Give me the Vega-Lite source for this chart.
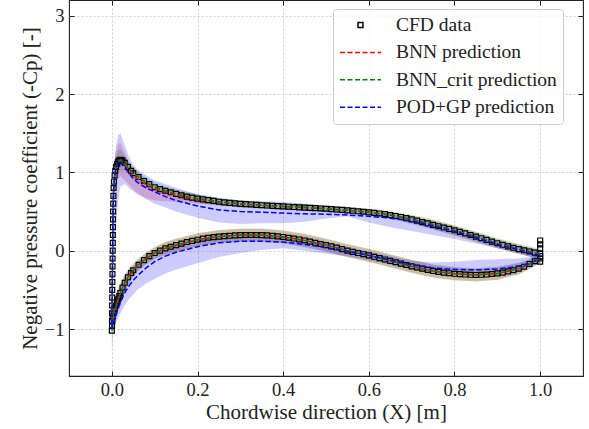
{
  "$schema": "https://vega.github.io/schema/vega-lite/v6.json",
  "width": 514,
  "height": 376,
  "autosize": {"type": "none"},
  "padding": {"left": 69, "top": 0, "right": 6, "bottom": 53},
  "background": "white",
  "config": {
    "view": {"stroke": "#222", "strokeWidth": 1.1},
    "font": "Liberation Serif, Times New Roman, DejaVu Serif, serif",
    "axis": {
      "labelFont": "Liberation Serif, Times New Roman, DejaVu Serif, serif", "titleFont": "Liberation Serif, Times New Roman, DejaVu Serif, serif",
      "labelFontSize": 18.5, "titleFontSize": 21, "titleFontWeight": "normal",
      "labelColor": "#222", "titleColor": "#222", "tickColor": "#222",
      "tickSize": -5, "tickWidth": 1, "domain": false,
      "gridColor": "#c4c4c4", "gridDash": [2, 2], "gridWidth": 0.8
    },
    "legend": {
      "orient": "none", "legendX": 264, "legendY": 9,
      "labelFont": "Liberation Serif, Times New Roman, DejaVu Serif, serif", "labelFontSize": 19.5, "labelColor": "#222",
      "padding": 6, "strokeColor": "#cccccc", "fillColor": "rgba(255,255,255,0.8)",
      "cornerRadius": 3, "symbolSize": 1681, "clipHeight": 20, "rowPadding": 7.4,
      "labelOffset": 14, "symbolStrokeWidth": 1.5, "labelLimit": 300, "symbolFillColor": "transparent", "symbolOpacity": 1
    }
  },
  "datasets": {
    "cfd": [
      {"x":0,"y":-1.02},{"x":0.0003,"y":-0.9},{"x":0.0005,"y":-0.8},{"x":0.0007,"y":-0.7},{"x":0.0009,"y":-0.6},{"x":0.001,"y":-0.5},{"x":0.0012,"y":-0.4},{"x":0.0014,"y":-0.3},{"x":0.0016,"y":-0.2},{"x":0.0018,"y":-0.1},{"x":0.002,"y":0.0},{"x":0.0022,"y":0.1},{"x":0.0024,"y":0.2},{"x":0.0026,"y":0.3},{"x":0.0028,"y":0.4},{"x":0.003,"y":0.5},{"x":0.0033,"y":0.6},{"x":0.0037,"y":0.7},{"x":0.0042,"y":0.8},{"x":0.005,"y":0.88},{"x":0.0065,"y":0.96},{"x":0.008,"y":1.02},{"x":0.01,"y":1.07},{"x":0.0125,"y":1.11},{"x":0.015,"y":1.14},{"x":0.0175,"y":1.155},{"x":0.02,"y":1.16},{"x":0.0225,"y":1.158},{"x":0.025,"y":1.15},{"x":0.03,"y":1.12},{"x":0.0375,"y":1.07},{"x":0.045,"y":1.02},{"x":0.05,"y":0.99},{"x":0.0625,"y":0.94},{"x":0.075,"y":0.89},{"x":0.0875,"y":0.85},{"x":0.1,"y":0.81},{"x":0.1125,"y":0.785},{"x":0.125,"y":0.765},{"x":0.1375,"y":0.745},{"x":0.15,"y":0.725},{"x":0.1625,"y":0.707},{"x":0.175,"y":0.69},{"x":0.1875,"y":0.677},{"x":0.2,"y":0.665},{"x":0.2125,"y":0.655},{"x":0.225,"y":0.645},{"x":0.2375,"y":0.635},{"x":0.25,"y":0.625},{"x":0.2625,"y":0.617},{"x":0.275,"y":0.61},{"x":0.2875,"y":0.604},{"x":0.3,"y":0.598},{"x":0.3125,"y":0.594},{"x":0.325,"y":0.59},{"x":0.3375,"y":0.585},{"x":0.35,"y":0.58},{"x":0.3625,"y":0.576},{"x":0.375,"y":0.572},{"x":0.3875,"y":0.568},{"x":0.4,"y":0.565},{"x":0.4125,"y":0.561},{"x":0.425,"y":0.557},{"x":0.4375,"y":0.553},{"x":0.45,"y":0.55},{"x":0.4625,"y":0.546},{"x":0.475,"y":0.543},{"x":0.4875,"y":0.539},{"x":0.5,"y":0.535},{"x":0.5125,"y":0.53},{"x":0.525,"y":0.525},{"x":0.5375,"y":0.52},{"x":0.55,"y":0.515},{"x":0.5625,"y":0.509},{"x":0.575,"y":0.503},{"x":0.5875,"y":0.497},{"x":0.6,"y":0.49},{"x":0.6125,"y":0.483},{"x":0.625,"y":0.475},{"x":0.6375,"y":0.466},{"x":0.65,"y":0.455},{"x":0.6625,"y":0.443},{"x":0.675,"y":0.43},{"x":0.6875,"y":0.415},{"x":0.7,"y":0.4},{"x":0.7125,"y":0.383},{"x":0.725,"y":0.365},{"x":0.7375,"y":0.348},{"x":0.75,"y":0.33},{"x":0.7625,"y":0.312},{"x":0.775,"y":0.295},{"x":0.7875,"y":0.278},{"x":0.8,"y":0.26},{"x":0.8125,"y":0.24},{"x":0.825,"y":0.22},{"x":0.8375,"y":0.2},{"x":0.85,"y":0.18},{"x":0.8625,"y":0.159},{"x":0.875,"y":0.138},{"x":0.8875,"y":0.116},{"x":0.9,"y":0.095},{"x":0.9125,"y":0.075},{"x":0.925,"y":0.055},{"x":0.9375,"y":0.037},{"x":0.95,"y":0.02},{"x":0.9625,"y":0.005},{"x":0.975,"y":-0.01},{"x":0.9875,"y":-0.025},{"x":1.0,"y":-0.04},
      {"x":1.0,"y":0.13},{"x":1.0,"y":0.08},{"x":1.0,"y":0.03},{"x":1.0,"y":-0.07},{"x":1.0,"y":-0.14},
      {"x":0.0005,"y":-0.96},{"x":0.001,"y":-0.9},{"x":0.002,"y":-0.84},{"x":0.004,"y":-0.79},{"x":0.007,"y":-0.74},{"x":0.01,"y":-0.7},{"x":0.0125,"y":-0.66},{"x":0.015,"y":-0.62},{"x":0.0175,"y":-0.58},{"x":0.02,"y":-0.54},{"x":0.025,"y":-0.47},{"x":0.03,"y":-0.41},{"x":0.0375,"y":-0.34},{"x":0.045,"y":-0.285},{"x":0.05,"y":-0.25},{"x":0.0625,"y":-0.18},{"x":0.075,"y":-0.12},{"x":0.0875,"y":-0.07},{"x":0.1,"y":-0.03},{"x":0.1125,"y":0.0},{"x":0.125,"y":0.03},{"x":0.1375,"y":0.05},{"x":0.15,"y":0.07},{"x":0.1625,"y":0.09},{"x":0.175,"y":0.11},{"x":0.1875,"y":0.125},{"x":0.2,"y":0.14},{"x":0.2125,"y":0.153},{"x":0.225,"y":0.165},{"x":0.2375,"y":0.173},{"x":0.25,"y":0.18},{"x":0.2625,"y":0.186},{"x":0.275,"y":0.19},{"x":0.2875,"y":0.195},{"x":0.3,"y":0.198},{"x":0.3125,"y":0.2},{"x":0.325,"y":0.2},{"x":0.3375,"y":0.2},{"x":0.35,"y":0.198},{"x":0.3625,"y":0.195},{"x":0.375,"y":0.19},{"x":0.3875,"y":0.183},{"x":0.4,"y":0.175},{"x":0.4125,"y":0.165},{"x":0.425,"y":0.155},{"x":0.4375,"y":0.143},{"x":0.45,"y":0.13},{"x":0.4625,"y":0.115},{"x":0.475,"y":0.1},{"x":0.4875,"y":0.085},{"x":0.5,"y":0.07},{"x":0.5125,"y":0.055},{"x":0.525,"y":0.04},{"x":0.5375,"y":0.02},{"x":0.55,"y":0.0},{"x":0.5625,"y":-0.015},{"x":0.575,"y":-0.03},{"x":0.5875,"y":-0.045},{"x":0.6,"y":-0.06},{"x":0.6125,"y":-0.078},{"x":0.625,"y":-0.095},{"x":0.6375,"y":-0.112},{"x":0.65,"y":-0.13},{"x":0.6625,"y":-0.148},{"x":0.675,"y":-0.165},{"x":0.6875,"y":-0.183},{"x":0.7,"y":-0.2},{"x":0.7125,"y":-0.215},{"x":0.725,"y":-0.23},{"x":0.7375,"y":-0.245},{"x":0.75,"y":-0.26},{"x":0.7625,"y":-0.27},{"x":0.775,"y":-0.28},{"x":0.7875,"y":-0.288},{"x":0.8,"y":-0.295},{"x":0.8125,"y":-0.3},{"x":0.825,"y":-0.305},{"x":0.8375,"y":-0.308},{"x":0.85,"y":-0.31},{"x":0.8625,"y":-0.308},{"x":0.875,"y":-0.305},{"x":0.8875,"y":-0.298},{"x":0.9,"y":-0.29},{"x":0.9125,"y":-0.28},{"x":0.925,"y":-0.265},{"x":0.9375,"y":-0.25},{"x":0.95,"y":-0.23},{"x":0.9625,"y":-0.205},{"x":0.975,"y":-0.17},{"x":0.9875,"y":-0.135},{"x":1.0,"y":-0.1}
    ],
    "pred": [
      {"s":"upper","i":0,"x":1.0,"bnn":-0.05,"bnn_lo":-0.1,"bnn_hi":0.0,"crit":-0.04,"crit_lo":-0.1,"crit_hi":0.02,"pod":-0.06,"pod_lo":-0.13,"pod_hi":0.01},
      {"s":"upper","i":1,"x":0.975,"bnn":-0.015,"bnn_lo":-0.07,"bnn_hi":0.04,"crit":-0.01,"crit_lo":-0.075,"crit_hi":0.055,"pod":-0.03,"pod_lo":-0.08,"pod_hi":0.03},
      {"s":"upper","i":2,"x":0.95,"bnn":0.02,"bnn_lo":-0.04,"bnn_hi":0.08,"crit":0.02,"crit_lo":-0.045,"crit_hi":0.085,"pod":0.01,"pod_lo":-0.03,"pod_hi":0.05},
      {"s":"upper","i":3,"x":0.9,"bnn":0.09,"bnn_lo":0.03,"bnn_hi":0.15,"crit":0.095,"crit_lo":0.03,"crit_hi":0.16,"pod":0.08,"pod_lo":0.03,"pod_hi":0.12},
      {"s":"upper","i":4,"x":0.85,"bnn":0.175,"bnn_lo":0.115,"bnn_hi":0.235,"crit":0.18,"crit_lo":0.115,"crit_hi":0.245,"pod":0.165,"pod_lo":0.09,"pod_hi":0.21},
      {"s":"upper","i":5,"x":0.8,"bnn":0.255,"bnn_lo":0.195,"bnn_hi":0.315,"crit":0.26,"crit_lo":0.195,"crit_hi":0.325,"pod":0.245,"pod_lo":0.15,"pod_hi":0.29},
      {"s":"upper","i":6,"x":0.75,"bnn":0.33,"bnn_lo":0.275,"bnn_hi":0.385,"crit":0.335,"crit_lo":0.27,"crit_hi":0.4,"pod":0.315,"pod_lo":0.2,"pod_hi":0.37},
      {"s":"upper","i":7,"x":0.7,"bnn":0.4,"bnn_lo":0.35,"bnn_hi":0.45,"crit":0.4,"crit_lo":0.34,"crit_hi":0.46,"pod":0.38,"pod_lo":0.25,"pod_hi":0.43},
      {"s":"upper","i":8,"x":0.65,"bnn":0.455,"bnn_lo":0.415,"bnn_hi":0.495,"crit":0.455,"crit_lo":0.405,"crit_hi":0.505,"pod":0.415,"pod_lo":0.3,"pod_hi":0.48},
      {"s":"upper","i":9,"x":0.6,"bnn":0.49,"bnn_lo":0.455,"bnn_hi":0.525,"crit":0.49,"crit_lo":0.445,"crit_hi":0.535,"pod":0.44,"pod_lo":0.36,"pod_hi":0.52},
      {"s":"upper","i":10,"x":0.55,"bnn":0.515,"bnn_lo":0.48,"bnn_hi":0.55,"crit":0.515,"crit_lo":0.47,"crit_hi":0.56,"pod":0.455,"pod_lo":0.44,"pod_hi":0.54},
      {"s":"upper","i":11,"x":0.5,"bnn":0.535,"bnn_lo":0.5,"bnn_hi":0.57,"crit":0.535,"crit_lo":0.49,"crit_hi":0.58,"pod":0.465,"pod_lo":0.41,"pod_hi":0.57},
      {"s":"upper","i":12,"x":0.45,"bnn":0.55,"bnn_lo":0.515,"bnn_hi":0.585,"crit":0.55,"crit_lo":0.505,"crit_hi":0.595,"pod":0.47,"pod_lo":0.37,"pod_hi":0.6},
      {"s":"upper","i":13,"x":0.4,"bnn":0.565,"bnn_lo":0.53,"bnn_hi":0.6,"crit":0.565,"crit_lo":0.52,"crit_hi":0.61,"pod":0.48,"pod_lo":0.35,"pod_hi":0.62},
      {"s":"upper","i":14,"x":0.35,"bnn":0.58,"bnn_lo":0.545,"bnn_hi":0.615,"crit":0.58,"crit_lo":0.535,"crit_hi":0.625,"pod":0.49,"pod_lo":0.35,"pod_hi":0.63},
      {"s":"upper","i":15,"x":0.3,"bnn":0.597,"bnn_lo":0.56,"bnn_hi":0.635,"crit":0.598,"crit_lo":0.55,"crit_hi":0.645,"pod":0.5,"pod_lo":0.34,"pod_hi":0.64},
      {"s":"upper","i":16,"x":0.25,"bnn":0.62,"bnn_lo":0.58,"bnn_hi":0.66,"crit":0.625,"crit_lo":0.575,"crit_hi":0.675,"pod":0.52,"pod_lo":0.36,"pod_hi":0.67},
      {"s":"upper","i":17,"x":0.2,"bnn":0.655,"bnn_lo":0.6,"bnn_hi":0.7,"crit":0.665,"crit_lo":0.61,"crit_hi":0.72,"pod":0.57,"pod_lo":0.42,"pod_hi":0.72},
      {"s":"upper","i":18,"x":0.15,"bnn":0.71,"bnn_lo":0.62,"bnn_hi":0.76,"crit":0.725,"crit_lo":0.67,"crit_hi":0.78,"pod":0.64,"pod_lo":0.5,"pod_hi":0.8},
      {"s":"upper","i":19,"x":0.125,"bnn":0.75,"bnn_lo":0.63,"bnn_hi":0.8,"crit":0.765,"crit_lo":0.71,"crit_hi":0.82,"pod":0.69,"pod_lo":0.55,"pod_hi":0.85},
      {"s":"upper","i":20,"x":0.1,"bnn":0.79,"bnn_lo":0.64,"bnn_hi":0.84,"crit":0.81,"crit_lo":0.75,"crit_hi":0.87,"pod":0.75,"pod_lo":0.6,"pod_hi":0.9},
      {"s":"upper","i":21,"x":0.08,"bnn":0.84,"bnn_lo":0.67,"bnn_hi":0.9,"crit":0.87,"crit_lo":0.8,"crit_hi":0.93,"pod":0.8,"pod_lo":0.66,"pod_hi":0.96},
      {"s":"upper","i":22,"x":0.06,"bnn":0.92,"bnn_lo":0.73,"bnn_hi":0.99,"crit":0.95,"crit_lo":0.88,"crit_hi":1.01,"pod":0.87,"pod_lo":0.72,"pod_hi":1.04},
      {"s":"upper","i":23,"x":0.05,"bnn":0.97,"bnn_lo":0.78,"bnn_hi":1.05,"crit":0.99,"crit_lo":0.92,"crit_hi":1.06,"pod":0.92,"pod_lo":0.76,"pod_hi":1.1},
      {"s":"upper","i":24,"x":0.04,"bnn":1.03,"bnn_lo":0.84,"bnn_hi":1.13,"crit":1.05,"crit_lo":0.97,"crit_hi":1.13,"pod":0.99,"pod_lo":0.8,"pod_hi":1.2},
      {"s":"upper","i":25,"x":0.03,"bnn":1.1,"bnn_lo":0.9,"bnn_hi":1.26,"crit":1.12,"crit_lo":1.02,"crit_hi":1.21,"pod":1.07,"pod_lo":0.85,"pod_hi":1.35},
      {"s":"upper","i":26,"x":0.02,"bnn":1.15,"bnn_lo":0.95,"bnn_hi":1.38,"crit":1.16,"crit_lo":1.02,"crit_hi":1.3,"pod":1.14,"pod_lo":0.82,"pod_hi":1.5},
      {"s":"upper","i":27,"x":0.015,"bnn":1.13,"bnn_lo":0.92,"bnn_hi":1.36,"crit":1.14,"crit_lo":1.0,"crit_hi":1.28,"pod":1.13,"pod_lo":0.65,"pod_hi":1.48},
      {"s":"upper","i":28,"x":0.01,"bnn":1.06,"bnn_lo":0.85,"bnn_hi":1.28,"crit":1.07,"crit_lo":0.95,"crit_hi":1.2,"pod":1.05,"pod_lo":0.35,"pod_hi":1.35},
      {"s":"upper","i":29,"x":0.007,"bnn":0.98,"bnn_lo":0.75,"bnn_hi":1.18,"crit":0.99,"crit_lo":0.85,"crit_hi":1.12,"pod":0.95,"pod_lo":0.15,"pod_hi":1.2},
      {"s":"upper","i":30,"x":0.004,"bnn":0.78,"bnn_lo":0.55,"bnn_hi":0.98,"crit":0.78,"crit_lo":0.62,"crit_hi":0.93,"pod":0.75,"pod_lo":0.0,"pod_hi":1.0},
      {"s":"upper","i":31,"x":0.003,"bnn":0.55,"bnn_lo":0.3,"bnn_hi":0.78,"crit":0.55,"crit_lo":0.38,"crit_hi":0.72,"pod":0.55,"pod_lo":-0.2,"pod_hi":0.85},
      {"s":"upper","i":32,"x":0.002,"bnn":0.0,"bnn_lo":-0.25,"bnn_hi":0.25,"crit":0.0,"crit_lo":-0.2,"crit_hi":0.2,"pod":0.2,"pod_lo":-0.45,"pod_hi":0.6},
      {"s":"upper","i":33,"x":0.001,"bnn":-0.5,"bnn_lo":-0.7,"bnn_hi":-0.3,"crit":-0.5,"crit_lo":-0.7,"crit_hi":-0.3,"pod":-0.5,"pod_lo":-0.8,"pod_hi":-0.2},
      {"s":"upper","i":34,"x":0,"bnn":-1.0,"bnn_lo":-1.1,"bnn_hi":-0.9,"crit":-1.02,"crit_lo":-1.15,"crit_hi":-0.9,"pod":-1.0,"pod_lo":-1.1,"pod_hi":-0.9},
      {"s":"lower","i":35,"x":0,"bnn":-1.0,"bnn_lo":-1.15,"bnn_hi":-0.9,"crit":-1.02,"crit_lo":-1.35,"crit_hi":-0.9,"pod":-0.98,"pod_lo":-1.05,"pod_hi":-0.92},
      {"s":"lower","i":36,"x":0.002,"bnn":-0.85,"bnn_lo":-1.02,"bnn_hi":-0.7,"crit":-0.86,"crit_lo":-1.12,"crit_hi":-0.68,"pod":-0.95,"pod_lo":-1.02,"pod_hi":-0.85},
      {"s":"lower","i":37,"x":0.005,"bnn":-0.78,"bnn_lo":-0.94,"bnn_hi":-0.64,"crit":-0.79,"crit_lo":-1.0,"crit_hi":-0.62,"pod":-0.9,"pod_lo":-0.98,"pod_hi":-0.76},
      {"s":"lower","i":38,"x":0.01,"bnn":-0.7,"bnn_lo":-0.84,"bnn_hi":-0.58,"crit":-0.7,"crit_lo":-0.88,"crit_hi":-0.54,"pod":-0.82,"pod_lo":-0.92,"pod_hi":-0.62},
      {"s":"lower","i":39,"x":0.015,"bnn":-0.62,"bnn_lo":-0.74,"bnn_hi":-0.51,"crit":-0.62,"crit_lo":-0.78,"crit_hi":-0.47,"pod":-0.73,"pod_lo":-0.86,"pod_hi":-0.52},
      {"s":"lower","i":40,"x":0.02,"bnn":-0.54,"bnn_lo":-0.65,"bnn_hi":-0.44,"crit":-0.54,"crit_lo":-0.68,"crit_hi":-0.41,"pod":-0.66,"pod_lo":-0.8,"pod_hi":-0.45},
      {"s":"lower","i":41,"x":0.03,"bnn":-0.41,"bnn_lo":-0.51,"bnn_hi":-0.32,"crit":-0.41,"crit_lo":-0.53,"crit_hi":-0.3,"pod":-0.54,"pod_lo":-0.7,"pod_hi":-0.34},
      {"s":"lower","i":42,"x":0.04,"bnn":-0.32,"bnn_lo":-0.41,"bnn_hi":-0.24,"crit":-0.32,"crit_lo":-0.43,"crit_hi":-0.22,"pod":-0.45,"pod_lo":-0.62,"pod_hi":-0.26},
      {"s":"lower","i":43,"x":0.05,"bnn":-0.25,"bnn_lo":-0.33,"bnn_hi":-0.18,"crit":-0.25,"crit_lo":-0.34,"crit_hi":-0.16,"pod":-0.38,"pod_lo":-0.56,"pod_hi":-0.2},
      {"s":"lower","i":44,"x":0.06,"bnn":-0.19,"bnn_lo":-0.26,"bnn_hi":-0.12,"crit":-0.19,"crit_lo":-0.27,"crit_hi":-0.11,"pod":-0.32,"pod_lo":-0.5,"pod_hi":-0.15},
      {"s":"lower","i":45,"x":0.08,"bnn":-0.1,"bnn_lo":-0.17,"bnn_hi":-0.03,"crit":-0.1,"crit_lo":-0.18,"crit_hi":-0.02,"pod":-0.22,"pod_lo":-0.42,"pod_hi":-0.06},
      {"s":"lower","i":46,"x":0.1,"bnn":-0.03,"bnn_lo":-0.1,"bnn_hi":0.04,"crit":-0.03,"crit_lo":-0.11,"crit_hi":0.05,"pod":-0.14,"pod_lo":-0.36,"pod_hi":0.01},
      {"s":"lower","i":47,"x":0.125,"bnn":0.03,"bnn_lo":-0.05,"bnn_hi":0.11,"crit":0.03,"crit_lo":-0.055,"crit_hi":0.115,"pod":-0.07,"pod_lo":-0.29,"pod_hi":0.06},
      {"s":"lower","i":48,"x":0.15,"bnn":0.07,"bnn_lo":-0.01,"bnn_hi":0.15,"crit":0.07,"crit_lo":-0.015,"crit_hi":0.155,"pod":-0.02,"pod_lo":-0.24,"pod_hi":0.1},
      {"s":"lower","i":49,"x":0.2,"bnn":0.14,"bnn_lo":0.06,"bnn_hi":0.22,"crit":0.14,"crit_lo":0.055,"crit_hi":0.225,"pod":0.05,"pod_lo":-0.16,"pod_hi":0.17},
      {"s":"lower","i":50,"x":0.25,"bnn":0.18,"bnn_lo":0.1,"bnn_hi":0.26,"crit":0.18,"crit_lo":0.095,"crit_hi":0.265,"pod":0.1,"pod_lo":-0.08,"pod_hi":0.21},
      {"s":"lower","i":51,"x":0.3,"bnn":0.2,"bnn_lo":0.12,"bnn_hi":0.28,"crit":0.198,"crit_lo":0.113,"crit_hi":0.283,"pod":0.12,"pod_lo":-0.03,"pod_hi":0.23},
      {"s":"lower","i":52,"x":0.35,"bnn":0.2,"bnn_lo":0.12,"bnn_hi":0.28,"crit":0.198,"crit_lo":0.113,"crit_hi":0.283,"pod":0.12,"pod_lo":0.01,"pod_hi":0.23},
      {"s":"lower","i":53,"x":0.4,"bnn":0.175,"bnn_lo":0.095,"bnn_hi":0.255,"crit":0.175,"crit_lo":0.09,"crit_hi":0.26,"pod":0.11,"pod_lo":0.03,"pod_hi":0.21},
      {"s":"lower","i":54,"x":0.45,"bnn":0.13,"bnn_lo":0.05,"bnn_hi":0.21,"crit":0.13,"crit_lo":0.045,"crit_hi":0.215,"pod":0.08,"pod_lo":0.0,"pod_hi":0.17},
      {"s":"lower","i":55,"x":0.5,"bnn":0.07,"bnn_lo":-0.01,"bnn_hi":0.15,"crit":0.07,"crit_lo":-0.015,"crit_hi":0.155,"pod":0.04,"pod_lo":-0.04,"pod_hi":0.11},
      {"s":"lower","i":56,"x":0.55,"bnn":0.0,"bnn_lo":-0.08,"bnn_hi":0.08,"crit":0.0,"crit_lo":-0.085,"crit_hi":0.085,"pod":-0.01,"pod_lo":-0.07,"pod_hi":0.04},
      {"s":"lower","i":57,"x":0.6,"bnn":-0.06,"bnn_lo":-0.14,"bnn_hi":0.02,"crit":-0.06,"crit_lo":-0.145,"crit_hi":0.025,"pod":-0.06,"pod_lo":-0.12,"pod_hi":-0.01},
      {"s":"lower","i":58,"x":0.65,"bnn":-0.13,"bnn_lo":-0.21,"bnn_hi":-0.05,"crit":-0.13,"crit_lo":-0.215,"crit_hi":-0.045,"pod":-0.12,"pod_lo":-0.18,"pod_hi":-0.07},
      {"s":"lower","i":59,"x":0.7,"bnn":-0.2,"bnn_lo":-0.28,"bnn_hi":-0.12,"crit":-0.2,"crit_lo":-0.285,"crit_hi":-0.115,"pod":-0.18,"pod_lo":-0.24,"pod_hi":-0.13},
      {"s":"lower","i":60,"x":0.75,"bnn":-0.26,"bnn_lo":-0.34,"bnn_hi":-0.18,"crit":-0.26,"crit_lo":-0.345,"crit_hi":-0.175,"pod":-0.22,"pod_lo":-0.29,"pod_hi":-0.15},
      {"s":"lower","i":61,"x":0.8,"bnn":-0.295,"bnn_lo":-0.375,"bnn_hi":-0.215,"crit":-0.295,"crit_lo":-0.38,"crit_hi":-0.21,"pod":-0.24,"pod_lo":-0.31,"pod_hi":-0.14},
      {"s":"lower","i":62,"x":0.85,"bnn":-0.31,"bnn_lo":-0.39,"bnn_hi":-0.23,"crit":-0.31,"crit_lo":-0.395,"crit_hi":-0.225,"pod":-0.245,"pod_lo":-0.32,"pod_hi":-0.12},
      {"s":"lower","i":63,"x":0.9,"bnn":-0.29,"bnn_lo":-0.37,"bnn_hi":-0.21,"crit":-0.29,"crit_lo":-0.375,"crit_hi":-0.205,"pod":-0.235,"pod_lo":-0.31,"pod_hi":-0.11},
      {"s":"lower","i":64,"x":0.95,"bnn":-0.23,"bnn_lo":-0.3,"bnn_hi":-0.16,"crit":-0.23,"crit_lo":-0.305,"crit_hi":-0.155,"pod":-0.2,"pod_lo":-0.26,"pod_hi":-0.1},
      {"s":"lower","i":65,"x":0.975,"bnn":-0.17,"bnn_lo":-0.23,"bnn_hi":-0.11,"crit":-0.17,"crit_lo":-0.235,"crit_hi":-0.105,"pod":-0.16,"pod_lo":-0.21,"pod_hi":-0.08},
      {"s":"lower","i":66,"x":1.0,"bnn":-0.1,"bnn_lo":-0.15,"bnn_hi":-0.05,"crit":-0.1,"crit_lo":-0.16,"crit_hi":-0.04,"pod":-0.1,"pod_lo":-0.15,"pod_hi":-0.04}
    ]
  },
  "resolve": {"axis": {"x": "independent", "y": "independent"}},
  "layer": [
    {
      "data": {"name": "pred"},
      "mark": {"type": "area", "color": "#ff0000", "opacity": 0.2},
      "encoding": {
        "x": {"field": "x", "type": "quantitative", "scale": {"domain": [-0.1, 1.1], "nice": false, "zero": false},
              "axis": {"orient": "bottom", "title": "Chordwise direction (X) [m]", "values": [0, 0.2, 0.4, 0.6, 0.8, 1.0], "format": ".1f", "grid": true, "labelPadding": 9, "titlePadding": 3}},
        "y": {"field": "bnn_lo", "type": "quantitative", "scale": {"domain": [-1.6, 3.2], "nice": false, "zero": false},
              "axis": {"orient": "left", "title": "Negative pressure coefficient (-Cp) [-]", "values": [-1, 0, 1, 2, 3], "format": "d", "grid": true, "labelPadding": 10, "titlePadding": 4}},
        "y2": {"field": "bnn_hi"},
        "detail": {"field": "s"}
      }
    },
    {
      "data": {"name": "pred"},
      "mark": {"type": "area", "color": "#008000", "opacity": 0.2},
      "encoding": {
        "x": {"field": "x", "type": "quantitative", "axis": null},
        "y": {"field": "crit_lo", "type": "quantitative", "axis": null},
        "y2": {"field": "crit_hi"},
        "detail": {"field": "s"}
      }
    },
    {
      "data": {"name": "pred"},
      "mark": {"type": "area", "color": "#0000ff", "opacity": 0.2},
      "encoding": {
        "x": {"field": "x", "type": "quantitative", "axis": null},
        "y": {"field": "pod_lo", "type": "quantitative", "axis": null},
        "y2": {"field": "pod_hi"},
        "detail": {"field": "s"}
      }
    },
    {
      "data": {"name": "cfd"},
      "mark": {"type": "point", "filled": false, "size": 1681, "strokeWidth": 1.2, "opacity": 1},
      "encoding": {
        "x": {"field": "x", "type": "quantitative", "axis": null},
        "y": {"field": "y", "type": "quantitative", "axis": null},
        "color": {
          "datum": "CFD data", "type": "nominal",
          "scale": {"domain": ["CFD data", "BNN prediction", "BNN_crit prediction", "POD+GP prediction"], "range": ["#000000", "#ff0000", "#008000", "#0000ff"]},
          "legend": {"title": null}
        },
        "shape": {
          "datum": "CFD data", "type": "nominal",
          "scale": {"domain": ["CFD data", "BNN prediction", "BNN_crit prediction", "POD+GP prediction"], "range": ["M-0.12,-0.12H0.12V0.12H-0.12Z", "stroke", "stroke", "stroke"]},
          "legend": {"title": null}
        },
        "strokeDash": {
          "datum": "CFD data", "type": "nominal",
          "scale": {"domain": ["CFD data", "BNN prediction", "BNN_crit prediction", "POD+GP prediction"], "range": [[1, 0], [5, 2.5], [5, 2.5], [5, 2.5]]},
          "legend": {"title": null}
        }
      }
    },
    {
      "data": {"name": "pred"},
      "mark": {"type": "line", "strokeWidth": 1.5, "strokeDash": [5.5, 2.4]},
      "encoding": {
        "x": {"field": "x", "type": "quantitative", "axis": null},
        "y": {"field": "bnn", "type": "quantitative", "axis": null},
        "order": {"field": "i", "type": "quantitative"},
        "color": {"datum": "BNN prediction", "type": "nominal"}
      }
    },
    {
      "data": {"name": "pred"},
      "mark": {"type": "line", "strokeWidth": 1.5, "strokeDash": [5.5, 2.4]},
      "encoding": {
        "x": {"field": "x", "type": "quantitative", "axis": null},
        "y": {"field": "crit", "type": "quantitative", "axis": null},
        "order": {"field": "i", "type": "quantitative"},
        "color": {"datum": "BNN_crit prediction", "type": "nominal"}
      }
    },
    {
      "data": {"name": "pred"},
      "mark": {"type": "line", "strokeWidth": 1.5, "strokeDash": [5.5, 2.4]},
      "encoding": {
        "x": {"field": "x", "type": "quantitative", "axis": null},
        "y": {"field": "pod", "type": "quantitative", "axis": null},
        "order": {"field": "i", "type": "quantitative"},
        "color": {"datum": "POD+GP prediction", "type": "nominal"}
      }
    },
    {
      "data": {"name": "pred"},
      "mark": {"type": "point", "opacity": 0},
      "encoding": {
        "x": {"field": "x", "type": "quantitative", "axis": {"orient": "top", "title": null, "labels": false, "grid": false, "values": [0, 0.2, 0.4, 0.6, 0.8, 1.0]}},
        "y": {"field": "bnn", "type": "quantitative", "axis": {"orient": "right", "title": null, "labels": false, "grid": false, "values": [-1, 0, 1, 2, 3]}}
      }
    }
  ]
}
